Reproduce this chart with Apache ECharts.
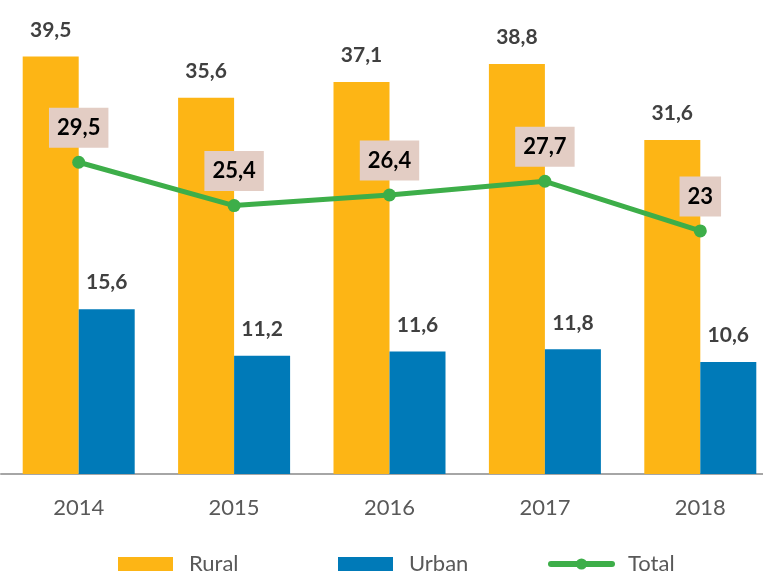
<!DOCTYPE html>
<html>
<head>
<meta charset="utf-8">
<script src="https://cdn.jsdelivr.net/npm/echarts@6/dist/echarts.min.js"></script>
<style>
  html, body { margin: 0; padding: 0; background: #fff; }
  #main { width: 763px; height: 572px; }
</style>
</head>
<body>
<div id="main"></div>
<script>
// data
var years = ['2014', '2015', '2016', '2017', '2018'];
var rural = [39.5, 35.6, 37.1, 38.8, 31.6];
var urban = [15.6, 11.2, 11.6, 11.8, 10.6];
var total = [29.5, 25.4, 26.4, 27.7, 23];

var FONT = 'Lato';

// comma as decimal mark
function fmt(p) {
    return String(p.value).replace('.', ',');
}

// one legend per item so each sits where the original has it
function legendAt(name, left, w, icon) {
    var lg = {
        data: [name],
        left: left,
        top: 552,
        padding: 0,
        itemWidth: w,
        itemHeight: 14,
        textStyle: { fontSize: 22, lineHeight: 24, color: '#595959', padding: [0, 0, 0, 11] }
    };
    if (icon) lg.icon = icon;
    else lg.lineStyle = { width: 6, cap: 'round' };
    return lg;
}

var chart = echarts.init(document.getElementById('main'));

chart.setOption({
    animation: false,
    textStyle: { fontFamily: FONT },
    grid: { left: 1, width: 777, top: 9, bottom: 98, outerBoundsMode: 'none' },
    legend: [
        legendAt('Rural', 118, 55, 'rect'),
        legendAt('Urban', 338, 55, 'rect'),
        legendAt('Total', 548, 61)
    ],
    xAxis: {
        type: 'category',
        data: years,
        axisLine: { lineStyle: { color: '#A6A6A6', width: 2 } },
        axisTick: { show: false },
        axisLabel: { fontSize: 22, color: '#595959', margin: 23 }
    },
    yAxis: {
        type: 'value',
        min: 0,
        max: 44,
        show: false,
        splitLine: { show: false }
    },
    series: [
        {
            name: 'Rural',
            type: 'bar',
            data: rural,
            barWidth: 56,
            barGap: '0%',
            itemStyle: { color: '#FDB515' },
            label: {
                show: true, position: 'top', distance: 16,
                formatter: fmt, fontSize: 21, fontWeight: 'bold', color: '#404040'
            }
        },
        {
            name: 'Urban',
            type: 'bar',
            data: urban,
            barWidth: 56,
            itemStyle: { color: '#007AB8' },
            label: {
                show: true, position: 'top', distance: 16,
                formatter: fmt, fontSize: 21, fontWeight: 'bold', color: '#404040'
            }
        },
        {
            name: 'Total',
            type: 'line',
            data: total,
            symbol: 'circle',
            symbolSize: 13,
            z: 5,
            itemStyle: { color: '#3DAE49' },
            lineStyle: { color: '#3DAE49', width: 5 },
            label: {
                show: true, position: 'top', distance: 8,
                formatter: fmt, fontSize: 22, fontWeight: 'bold', color: '#000',
                backgroundColor: '#E3CDC4', padding: [9, 8]
            }
        }
    ]
});
</script>
</body>
</html>
